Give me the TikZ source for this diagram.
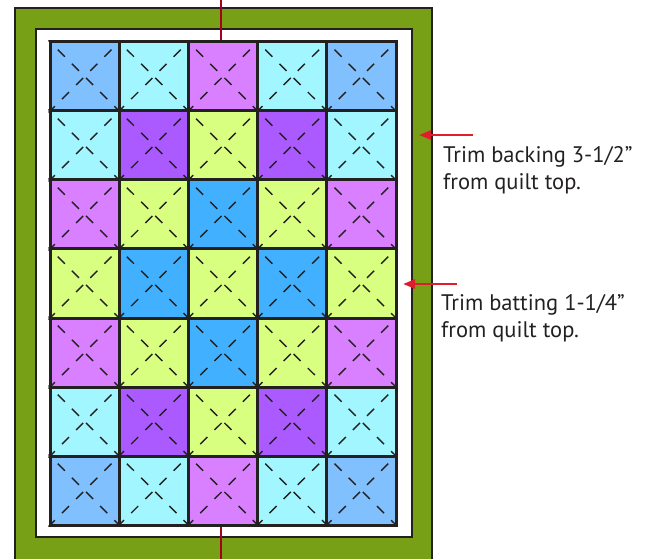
\documentclass[tikz,border=0pt]{standalone}
\usepackage{fontspec}
\setmainfont{PT Sans}
\usetikzlibrary{positioning,arrows.meta}
\definecolor{qgreen}{RGB}{120,160,22}
\definecolor{qblue}{RGB}{128,192,255}
\definecolor{qcyan}{RGB}{162,246,255}
\definecolor{qviolet}{RGB}{216,128,255}
\definecolor{qpurple}{RGB}{170,90,255}
\definecolor{qlime}{RGB}{216,255,128}
\definecolor{qsky}{RGB}{64,176,255}
\definecolor{qred}{RGB}{222,30,44}
\definecolor{qseam}{RGB}{165,0,30}
\definecolor{qink}{RGB}{35,32,32}

\begin{document}
\begin{tikzpicture}[x=1pt, y=-1pt,
    block/.style={draw=qink, line width=3pt, inner sep=0pt,
        minimum width=69.2pt, minimum height=69pt},
    quilting/.style={qink, line width=1.4pt, dash pattern=on 10pt off 10pt, dash phase=7pt},
    frame/.style={draw=qink, line width=2.2pt},
    note/.style={anchor=north west, inner sep=0pt, align=left,
        font=\fontsize{22.5}{27}\selectfont, text=qink},
    pointer/.style={qred, line width=2.6pt, -{Triangle[length=12pt,width=9pt]}}]
    \useasboundingbox (0,0) rectangle (654,559);
    \clip (0,0) rectangle (654,559);

    % backing and batting
    \fill[qgreen, frame] (15,8) rectangle (432,590);
    \fill[white, frame] (36,29) rectangle (412,537);

    % blocks
    \foreach \r/\cols in {1/{qblue,qcyan,qviolet,qcyan,qblue},
                          2/{qcyan,qpurple,qlime,qpurple,qcyan},
                          3/{qviolet,qlime,qsky,qlime,qviolet},
                          4/{qlime,qsky,qlime,qsky,qlime},
                          5/{qviolet,qlime,qsky,qlime,qviolet},
                          6/{qcyan,qpurple,qlime,qpurple,qcyan},
                          7/{qblue,qcyan,qviolet,qcyan,qblue}}{
        \foreach \col [count=\c] in \cols {
            \node[block, fill=\col] (b-\r-\c) at ({50+69.2*(\c-0.5)}, {42+69*(\r-0.5)}) {};
            \draw[quilting] (b-\r-\c.north west) -- (b-\r-\c.south east);
            \draw[quilting] (b-\r-\c.north east) -- (b-\r-\c.south west);
        }
    }

    % centre seam
    \coordinate (seam-top) at (221,0);
    \coordinate (seam-bot) at (221,559);
    \draw[qseam, line width=2pt] (seam-top) -- (seam-top |- b-1-3.north);
    \draw[qseam, line width=2pt] (seam-bot) -- (seam-bot |- b-7-3.south);

    % labels
    \node[note] (backing) at (443,146) {Trim backing 3-1/2”\\from quilt top.};
    \node[note] (batting) at (441,294) {Trim batting 1-1/4”\\from quilt top.};
    \coordinate (backing-tail) at (473,135);
    \coordinate (backing-tip) at (419,135);
    \coordinate (batting-tail) at (457,284);
    \coordinate (batting-tip) at (403,284);
    \draw[pointer] (backing-tail) -- (backing-tip);
    \draw[pointer] (batting-tail) -- (batting-tip);
\end{tikzpicture}
\end{document}
